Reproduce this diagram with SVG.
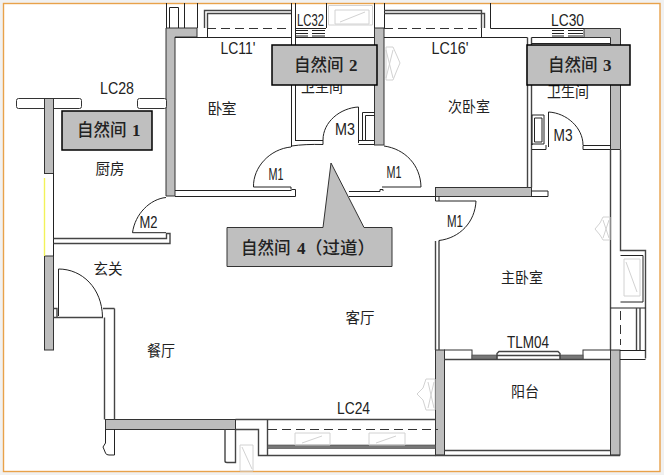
<svg xmlns="http://www.w3.org/2000/svg" width="664" height="475" viewBox="0 0 664 475">
<style>
.w{fill:none;stroke:#222;stroke-width:1}
.t{fill:none;stroke:#444;stroke-width:1.4}
.g{fill:#bdbdbd;stroke:#333;stroke-width:1}
.d{fill:#777;stroke:#444;stroke-width:.6}
.ic{fill:none;stroke:#d2d2d2;stroke-width:1}
.dash{fill:none;stroke:#333;stroke-width:1;stroke-dasharray:9 5}
.y{fill:#fff;stroke:#333;stroke-width:1}
text{font-family:"Liberation Sans","Noto Sans CJK SC",sans-serif;fill:#222;text-anchor:middle}
.lb{font-size:16.5px}
.rm{font-family:"Noto Sans CJK SC","Liberation Sans",sans-serif;font-size:15px;fill:#222}
.c{font-family:"Noto Sans CJK SC","Liberation Serif",serif;font-size:16.5px;fill:#222;font-weight:500;text-anchor:start}
.n{font-family:"Liberation Serif",serif;font-weight:bold;font-size:17px}
.p{font-size:17.5px}
.box{fill:#bfbfbf;stroke:#000;stroke-width:1.5}
.box4{fill:#bfbfbf;stroke:#333;stroke-width:1}
</style>
<rect x="0" y="0" width="664" height="475" fill="#f1f1f1"/>
<rect x="3.5" y="3.5" width="656.5" height="468" fill="#fff" stroke="#e8a24a" stroke-width="1.4"/>

<g id="plan-walls">
<path class="g" d="M166 28H197V37H175V196H166Z"/>
<rect class="g" x="44.500" y="256" width="9" height="94"/>
<rect class="g" x="105.500" y="419.500" width="130" height="10"/>
<rect class="g" x="374.500" y="28" width="9.500" height="117"/>
<rect class="g" x="435.500" y="187.500" width="96" height="9"/>
<path class="g" d="M584 28.500H620.500V149.500H610.500V37.500H584Z"/>
<rect class="g" x="435.500" y="350" width="9" height="105"/>
<rect class="g" x="610.500" y="350" width="9.500" height="105"/>

<rect class="y" x="16.500" y="98.500" width="65" height="10" rx="2"/>
<rect class="y" x="137.500" y="98.500" width="29" height="10" rx="2"/>
<rect class="g" x="44.500" y="98.500" width="9" height="75"/>
<path d="M44.500 178V256" stroke="#f2f25a" stroke-width="1.400" fill="none"/>
<path class="w" d="M53.500 173V256"/>
<path class="t" d="M53.500 238.500H166.500V233.500M53.500 243.500H170V233.500H166"/>

<path class="w" d="M166.500 3V28M184.500 3V28M197.500 3V28M169.500 28V7.500H178.500V28"/>
<path class="t" d="M204.500 28V10.500H291M207.500 28V13.500H291"/>
<path class="dash" d="M207 28.500H290"/>
<path class="w" d="M207.500 28V37.500"/>
<path class="w" d="M175 37.500H291.500M175 190.500H291.500M175 196.500H295.500V189.500H291.500"/>
<path class="w" d="M291.500 3V147M295.500 3V141"/>
<path class="w" d="M296 28.500H326M296 37.500H374"/>
<path class="w" d="M326.500 3V28M296 30.500H308M296 33.500H308M296 36H308M312 30.500H325M312 33.500H325M312 36H325"/>
<path class="w" d="M374.500 3V28M384.500 3V28"/>
<path class="ic" d="M328.500 5.500H372.500V25H328.500ZM335 10H369V24H335ZM340 22L365 12"/>

<path class="w" d="M295.500 140.500H323M291.500 146Q305 144 323 144.500V140"/>
<path class="w" d="M358.500 107V143M358.500 140.500H374M358.500 144.500H374"/>
<path class="w" d="M362.500 140V112.500H374.500M365.500 140V115.500H374.500"/>

<path class="t" d="M104.500 317.500V419.500M114.500 308.500V419.500M103 308.500H114.500"/>
<path class="t" d="M53.500 317.500H103M53.500 308.500H57V317.500"/>
<path class="w" d="M105.500 429.500V443L103 447L105.500 453Q106 455 109 455H114.500V429.500"/>
<path class="t" d="M225 429.500V461Q225 462.500 227 462.500H235.500V429.500"/>
<path class="t" d="M235.500 419.500H435.500M235.500 429.500H258.500V455.500H435.500M267.500 419.500V455.500"/>
<path class="dash" d="M268 429.500H438"/>
<rect class="d" x="267.500" y="445" width="168" height="3.500"/>
<path class="ic" d="M295 433H330V445H295ZM302 443L322 436M369 433H405V445H369ZM376 443L396 436M240 445H253V471H240ZM242 447L252 469"/>

<path class="t" d="M384 10.500H481.500V28M384 13.500H484.500V28"/>
<path class="dash" d="M384 28.500H481"/>
<path class="w" d="M481.500 28V37.500M490.500 3V28.500H584M384 37.500H527.500"/>
<path class="w" d="M552 30.500H564M552 33.500H564M552 36H564M568 30.500H583M568 33.500H583M568 36H583"/>
<path class="t" d="M527.500 37.500V187.500M531.500 37.500V187.500"/>
<path class="w" d="M531.500 37.500H584M531.500 43.500H610"/>
<path class="w" d="M349 191.500H380V189.500H383V191M349 196.500H435.500"/>
<path class="w" d="M531.500 191H548V196.500H531.500"/>
<path class="w" d="M435.500 196.500V201H439V196.500"/>

<path class="w" d="M532 145V115H544V144H532ZM534.500 118H542V142H534.500Z"/>
<path class="w" d="M532 149.500H546V145M548.500 112V147M583 149.500H610.500M583 145.500H610.500M583 145.500V149.500"/>

<path class="t" d="M435.500 241V350M439 240.500V350"/>
<path class="t" d="M610.500 149.500V350"/>
<path class="t" d="M620.500 149.500V250.500H645.500V358.500"/>
<path class="w" d="M620.500 255.500H643V302H620.500M610.500 308H645.500"/>
<path class="ic" d="M624 259H640V296H624ZM626 262L637 292"/>
<path class="dash" d="M620.500 311V345"/>
<path class="t" d="M636.500 308V350M640 308V350"/>
<path class="w" d="M620 350.500H645.500M620 359.500H645.500"/>

<rect class="y" x="444.500" y="350" width="27.500" height="9.500"/>
<rect class="y" x="583" y="350" width="27.500" height="9.500"/>
<rect class="d" x="472" y="355" width="25" height="4.500"/>
<rect class="d" x="560" y="355" width="23" height="4.500"/>
<path class="t" d="M497 359.500V353.500L499 351.500H558L560 353.500V359.500M497 355.500H560"/>
<path class="t" d="M444 359.500H610.500"/>
<path class="t" d="M444.500 450.500H610.500M435 455.500H620"/>

<path class="ic" d="M386 47H393L397 56L400 63L397 70L393 80H386ZM386 50L393 78M393 50L386 78"/>
<path class="ic" d="M435 379V410H426L423 400L417 394L423 388L426 379ZM428 382L434 408M434 382L428 408"/>
<path class="ic" d="M610 217V240H603L600 235L595 229L600 223L603 217ZM603 220L609 238M609 220L603 238"/>
</g>

<g id="doors">
<path class="w" d="M253.500 187H291V189.500M253.500 187C253 167 270 149 291 147"/>
<path class="w" d="M382 187H421C420.500 165 405 149 384 146"/>
<path class="w" d="M323 140C323 122 340 108 358.500 107"/>
<path class="w" d="M548.500 112C567 113 583 128 583 145"/>
<path class="w" d="M132.500 232.700H166M132.500 232.700C135 214 150 199 166 197.500"/>
<path class="w" d="M58.500 269V316M58.500 269C82 269 102 288 102.500 317"/>
<path class="w" d="M439 201H476C475 222 460 238 439 240.500"/>
</g>

<g id="labels">
<text class="lb" x="117" y="94" textLength="34" lengthAdjust="spacingAndGlyphs">LC28</text>
<text class="lb" x="238" y="54" textLength="35" lengthAdjust="spacingAndGlyphs">LC11'</text>
<text class="lb" x="450" y="54" textLength="37" lengthAdjust="spacingAndGlyphs">LC16'</text>
<text class="lb" x="310.500" y="26" textLength="27" lengthAdjust="spacingAndGlyphs">LC32</text>
<text class="lb" x="567.500" y="26" textLength="33" lengthAdjust="spacingAndGlyphs">LC30</text>
<text class="lb" x="353.500" y="414" textLength="33" lengthAdjust="spacingAndGlyphs">LC24</text>
<text class="lb" x="528" y="348" textLength="42" lengthAdjust="spacingAndGlyphs">TLM04</text>
<text class="lb" x="148.500" y="228" textLength="18" lengthAdjust="spacingAndGlyphs">M2</text>
<text class="lb" x="276" y="180" textLength="15" lengthAdjust="spacingAndGlyphs">M1</text>
<text class="lb" x="394" y="178" textLength="15" lengthAdjust="spacingAndGlyphs">M1</text>
<text class="lb" x="455" y="227" textLength="16" lengthAdjust="spacingAndGlyphs">M1</text>
<text class="lb" x="345" y="135" textLength="20" lengthAdjust="spacingAndGlyphs">M3</text>
<text class="lb" x="563" y="141" textLength="19" lengthAdjust="spacingAndGlyphs">M3</text>
<text class="rm" x="222" y="114" textLength="29">卧室</text>
<text class="rm" x="110" y="174" textLength="29" lengthAdjust="spacingAndGlyphs">厨房</text>
<text class="rm" x="469" y="112" textLength="42" lengthAdjust="spacingAndGlyphs">次卧室</text>
<text class="rm" x="322" y="92" textLength="42" lengthAdjust="spacingAndGlyphs">卫生间</text>
<text class="rm" x="568" y="97" textLength="42" lengthAdjust="spacingAndGlyphs">卫生间</text>
<text class="rm" x="108" y="274" textLength="29" lengthAdjust="spacingAndGlyphs">玄关</text>
<text class="rm" x="161" y="356" textLength="28" lengthAdjust="spacingAndGlyphs">餐厅</text>
<text class="rm" x="360" y="323" textLength="29" lengthAdjust="spacingAndGlyphs">客厅</text>
<text class="rm" x="522" y="283" textLength="42" lengthAdjust="spacingAndGlyphs">主卧室</text>
<text class="rm" x="525" y="397" textLength="28" lengthAdjust="spacingAndGlyphs">阳台</text>
</g>

<g id="callout-1">
<rect class="box" x="62" y="111" width="90" height="39"/>
<text class="c" x="77" y="136">自然间<tspan class="n" x="132">1</tspan></text>
</g>
<g id="callout-2">
<rect class="box" x="272" y="45" width="105" height="40"/>
<text class="c" x="294" y="71">自然间<tspan class="n" x="349">2</tspan></text>
</g>
<g id="callout-3">
<rect class="box" x="527" y="45" width="103" height="40"/>
<text class="c" x="548" y="71">自然间<tspan class="n" x="603">3</tspan></text>
</g>
<g id="callout-4">
<path class="box4" d="M227 227.500H323L331 163L364 227.500H392V266.500H227Z"/>
<text class="c" x="241" y="254">自然间<tspan class="n" x="297">4</tspan><tspan class="p" x="305">（过道）</tspan></text>
</g>
</svg>
